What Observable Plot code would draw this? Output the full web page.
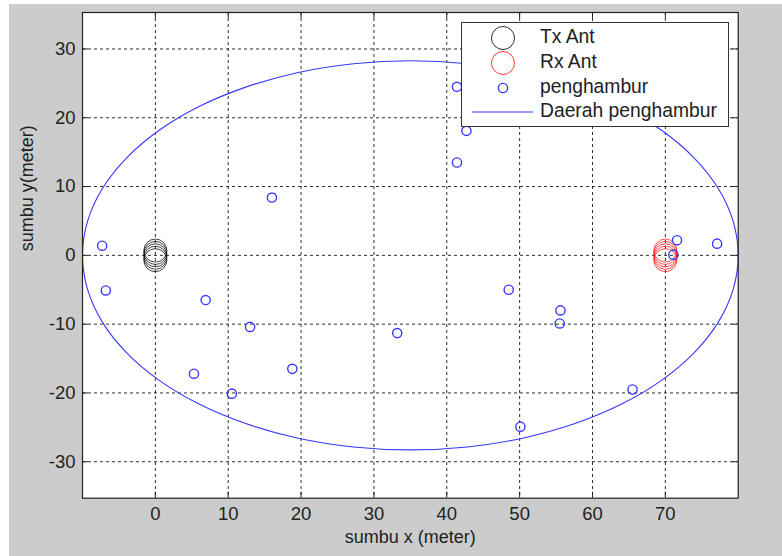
<!DOCTYPE html>
<html><head><meta charset="utf-8">
<script src="https://cdn.jsdelivr.net/npm/d3@7"></script>
<script src="https://cdn.jsdelivr.net/npm/@observablehq/plot@0.6"></script>
<style>
html,body{margin:0;padding:0;background:#fff;width:782px;height:556px;overflow:hidden;}
#wrap{position:absolute;left:9px;top:4px;width:773px;height:552px;background:#cccccc;}
#legend{position:absolute;left:452px;top:18px;width:266px;height:103px;background:#fff;border:1px solid #333;font-family:'Liberation Sans',Arial,sans-serif;font-size:19.3px;color:#222;}
.row{position:absolute;left:0;height:24px;width:266px;}
.row svg{position:absolute;left:0;top:0;}
.row span{position:absolute;left:78px;top:0px;line-height:22px;white-space:nowrap;}
</style></head><body><div id="wrap"></div>
<script>
// ---- data ----
const xTicks = [0, 10, 20, 30, 40, 50, 60, 70];
const yTicks = [-30, -20, -10, 0, 10, 20, 30];
const xDomain = [-10, 80];
const yDomain = [-35.3, 35.3];

// Tx antenna array (black circles)
const txX = [0, 0, 0, 0, 0];
const txY = [-0.7, -0.35, 0, 0.35, 0.7];
// Rx antenna array (red circles)
const rxX = [70, 70, 70, 70, 70];
const rxY = [-0.7, -0.35, 0, 0.35, 0.7];

// scatterers (penghambur)
const scatX = [-7.3, -6.8, 5.3, 6.9, 10.5, 13.0, 16.0, 18.8, 33.2, 41.4, 41.4, 42.7, 48.5, 50.1, 55.6, 55.5, 65.5, 71.1, 71.6, 77.1];
const scatY = [1.4, -5.1, -17.2, -6.5, -20.1, -10.4, 8.4, -16.5, -11.3, 24.5, 13.5, 18.1, -5.0, -24.9, -8.0, -9.9, -19.5, 0.1, 2.2, 1.7];

// scattering region boundary (Daerah penghambur), vertices
const ellX = [80, 79.32, 77.29, 73.97, 69.47, 63.93, 57.5, 50.39, 42.81, 35, 27.19, 19.61, 12.5, 6.07, 0.53, -3.97, -7.29, -9.32,
              -10, -9.32, -7.29, -3.97, 0.53, 6.07, 12.5, 19.61, 27.19, 35, 42.81, 50.39, 57.5, 63.93, 69.47, 73.97, 77.29, 79.32];
const ellY = [0, 4.91, 9.67, 14.14, 18.18, 21.66, 24.49, 26.58, 27.85, 28.28, 27.85, 26.58, 24.49, 21.66, 18.18, 14.14, 9.67, 4.91,
              0, -4.91, -9.67, -14.14, -18.18, -21.66, -24.49, -26.58, -27.85, -28.28, -27.85, -26.58, -24.49, -21.66, -18.18, -14.14, -9.67, -4.91];

const legendLabels = ["Tx Ant", "Rx Ant", "penghambur", "Daerah penghambur"];
const xLabel = "sumbu x (meter)";
const yLabel = "sumbu y(meter)";

// ---- build tables ----
const zip = (xs, ys) => xs.map((x, i) => ({x, y: ys[i]}));
const tx = zip(txX, txY), rx = zip(rxX, rxY), scat = zip(scatX, scatY), ell = zip(ellX, ellY);

const W = 773, H = 552, mL = 73, mR = 44.3, mT = 8, mB = 58.3;
const plotH = H - mT - mB, plotW = W - mL - mR;
const ink = "#222";
const blue = "#3838ff";

const chart = Plot.plot({
  width: W, height: H,
  marginLeft: mL, marginRight: mR, marginTop: mT, marginBottom: mB,
  style: {background: "transparent", fontFamily: "'Liberation Sans', Arial, sans-serif", fontSize: "18.5px", color: ink},
  x: {domain: xDomain},
  y: {domain: yDomain},
  marks: [
    Plot.frame({fill: "white", stroke: null}),
    Plot.gridX(xTicks, {stroke: ink, strokeOpacity: 0.95, strokeDasharray: "3,3"}),
    Plot.gridY(yTicks, {stroke: ink, strokeOpacity: 0.95, strokeDasharray: "3,3"}),
    Plot.tickX(xTicks, {x: d => d, insetTop: plotH - 6, stroke: ink}),
    Plot.tickX(xTicks, {x: d => d, insetBottom: plotH - 6, stroke: ink}),
    Plot.tickY(yTicks, {y: d => d, insetRight: plotW - 6, stroke: ink}),
    Plot.tickY(yTicks, {y: d => d, insetLeft: plotW - 6, stroke: ink}),
    Plot.line(ell, {x: "x", y: "y", curve: "catmull-rom-closed", stroke: blue, strokeWidth: 1.1}),
    Plot.dot(tx, {x: "x", y: "y", r: 11.5, stroke: "#111", strokeWidth: 0.8, fill: "none"}),
    Plot.dot(rx, {x: "x", y: "y", r: 11.5, stroke: "#ff2020", strokeWidth: 0.8, fill: "none"}),
    Plot.dot(scat, {x: "x", y: "y", r: 4.6, stroke: blue, strokeWidth: 1.4, fill: "none"}),
    Plot.frame({stroke: ink, strokeWidth: 1.2}),
    Plot.axisX(xTicks, {tickSize: 0, tickPadding: 9, label: null, tickFormat: d => String(d), fill: ink}),
    Plot.axisY(yTicks, {tickSize: 0, tickPadding: 7, label: null, tickFormat: d => String(d), fill: ink}),
    Plot.text([xLabel], {text: d => d, frameAnchor: "bottom", dy: 45, fontSize: 18, fill: ink}),
    Plot.text([yLabel], {text: d => d, frameAnchor: "left", dx: -55, dy: -4, rotate: -90, fontSize: 18, fill: ink})
  ]
});
const wrap = document.getElementById("wrap");
wrap.appendChild(chart);

// ---- legend (HTML overlay) ----
const legend = document.createElement("div");
legend.id = "legend";
const rowTops = [3, 28, 53, 77];
const symbols = [
  `<circle cx="41" cy="12" r="11.5" fill="none" stroke="#111" stroke-width="0.9"/>`,
  `<circle cx="41" cy="12" r="11.5" fill="none" stroke="#ff2020" stroke-width="0.9"/>`,
  `<circle cx="41" cy="12" r="4.6" fill="none" stroke="${blue}" stroke-width="1.4"/>`,
  `<line x1="10" x2="71" y1="12" y2="12" stroke="${blue}" stroke-width="1.2"/>`
];
legendLabels.forEach((lab, i) => {
  const row = document.createElement("div");
  row.className = "row";
  row.style.top = rowTops[i] + "px";
  row.innerHTML = `<svg width="80" height="24">${symbols[i]}</svg><span>${lab}</span>`;
  legend.appendChild(row);
});
wrap.appendChild(legend);
</script></body></html>
